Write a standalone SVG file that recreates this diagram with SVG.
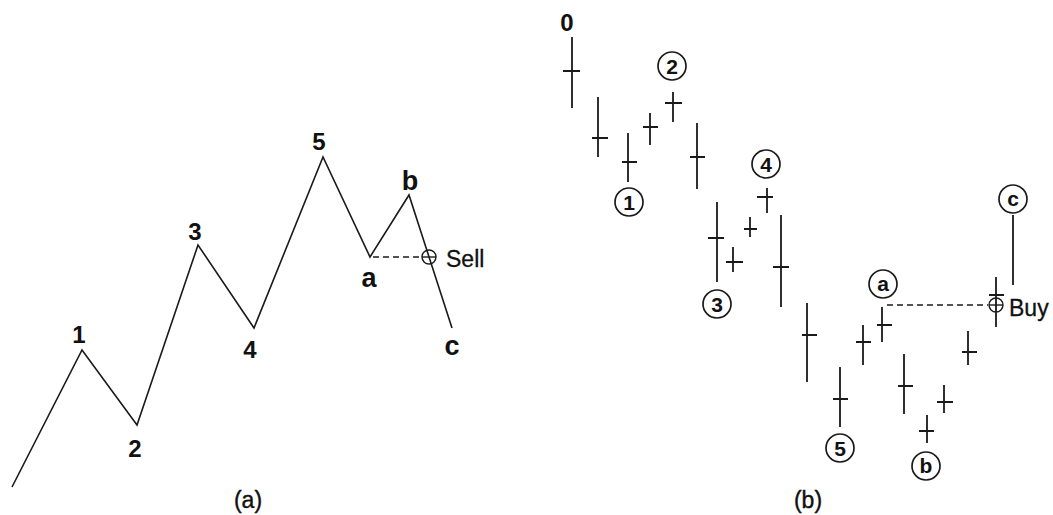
<svg xmlns="http://www.w3.org/2000/svg" width="1053" height="515" viewBox="0 0 1053 515">
<style>
  .ln{fill:none;stroke:#1a1a1a;stroke-width:1.6;stroke-linejoin:miter}
  .dash{fill:none;stroke:#1a1a1a;stroke-width:1.4;stroke-dasharray:6 4}
  .bar{fill:none;stroke:#1a1a1a;stroke-width:1.8}
  .ring{fill:#fff;stroke:#1a1a1a;stroke-width:1.7}
  .mk{fill:none;stroke:#1a1a1a;stroke-width:1.4}
  .lbl{font-family:"Liberation Sans",Arial,sans-serif;font-size:24px;font-weight:bold;fill:#111;text-anchor:middle}
  .let{font-size:27px}
  .word{font-family:"Liberation Sans",Arial,sans-serif;font-size:23px;fill:#111;stroke:#111;stroke-width:0.3}
  .cap{font-family:"Liberation Sans",Arial,sans-serif;font-size:23px;fill:#111;stroke:#111;stroke-width:0.4;text-anchor:middle}
  .cl{font-family:"Liberation Sans",Arial,sans-serif;font-size:21px;font-weight:bold;fill:#111;text-anchor:middle}
</style>

<g id="panel-a">
  <g id="connectors-a">
    <polyline class="ln" points="12,487 82,350 137,425 198,245 254,328 323,157 370,257 409,195 452,328"/>
    <line class="dash" x1="373" y1="257" x2="421" y2="257"/>
  </g>
  <g id="sell-marker">
    <circle class="mk" cx="429" cy="257" r="7"/>
    <line class="mk" x1="422" y1="257" x2="436" y2="257"/>
    <text class="word" x="446" y="267">Sell</text>
  </g>
  <g id="wave-1"><text class="lbl" x="79" y="343">1</text></g>
  <g id="wave-2"><text class="lbl" x="135" y="457">2</text></g>
  <g id="wave-3"><text class="lbl" x="195" y="240">3</text></g>
  <g id="wave-4"><text class="lbl" x="250" y="358">4</text></g>
  <g id="wave-5"><text class="lbl" x="319" y="150">5</text></g>
  <g id="wave-a"><text class="lbl let" x="369" y="287">a</text></g>
  <g id="wave-b"><text class="lbl let" x="410" y="190">b</text></g>
  <g id="wave-c"><text class="lbl let" x="452" y="355">c</text></g>
  <text class="cap" x="248" y="508">(a)</text>
</g>

<g id="panel-b">
  <g id="bars">
    <path class="bar" d="M572,37V108M563,71H580"/>
    <path class="bar" d="M598,97V157M592,138H608"/>
    <path class="bar" d="M628,133V182M622,162H637"/>
    <path class="bar" d="M650,113V145M643,127H658"/>
    <path class="bar" d="M673,92V122M665,103H682"/>
    <path class="bar" d="M697,123V189M690,157H705"/>
    <path class="bar" d="M717,202V282M708,238H724"/>
    <path class="bar" d="M733,247V272M726,262H743"/>
    <path class="bar" d="M750,217V237M744,229H757"/>
    <path class="bar" d="M767,188V213M757,197H773"/>
    <path class="bar" d="M781,215V307M773,267H789"/>
    <path class="bar" d="M807,303V382M802,335H817"/>
    <path class="bar" d="M840,367V427M833,399H848"/>
    <path class="bar" d="M863,325V365M856,342H871"/>
    <path class="bar" d="M882,307V342M877,325H892"/>
    <path class="bar" d="M904,354V414M898,386H913"/>
    <path class="bar" d="M927,415V443M919,431H934"/>
    <path class="bar" d="M944,385V413M937,402H953"/>
    <path class="bar" d="M968,331V365M962,352H977"/>
    <path class="bar" d="M996,277V327M989,295H1004"/>
    <path class="bar" d="M1013,215V285"/>
  </g>
  <g id="connectors-b">
    <line class="dash" x1="887" y1="305" x2="988" y2="305"/>
  </g>
  <g id="buy-marker">
    <circle class="mk" cx="996" cy="305" r="7"/>
    <line class="mk" x1="989" y1="305" x2="1003" y2="305"/>
    <text class="word" x="1009" y="316">Buy</text>
  </g>
  <g id="label-0"><text class="lbl" x="567" y="31" font-size="26">0</text></g>
  <g id="label-1"><circle class="ring" cx="629" cy="202" r="14"/><text class="cl" x="629" y="210">1</text></g>
  <g id="label-2"><circle class="ring" cx="672" cy="66" r="14"/><text class="cl" x="672" y="74">2</text></g>
  <g id="label-3"><circle class="ring" cx="717" cy="304" r="14"/><text class="cl" x="717" y="312">3</text></g>
  <g id="label-4"><circle class="ring" cx="766" cy="164" r="14"/><text class="cl" x="766" y="172">4</text></g>
  <g id="label-5"><circle class="ring" cx="840" cy="448" r="14"/><text class="cl" x="840" y="456">5</text></g>
  <g id="label-a"><circle class="ring" cx="883" cy="284" r="14"/><text class="cl" x="883" y="291">a</text></g>
  <g id="label-b"><circle class="ring" cx="926" cy="466" r="14"/><text class="cl" x="926" y="473">b</text></g>
  <g id="label-c"><circle class="ring" cx="1013" cy="199" r="14"/><text class="cl" x="1013" y="206">c</text></g>
  <text class="cap" x="808" y="508">(b)</text>
</g>
</svg>
